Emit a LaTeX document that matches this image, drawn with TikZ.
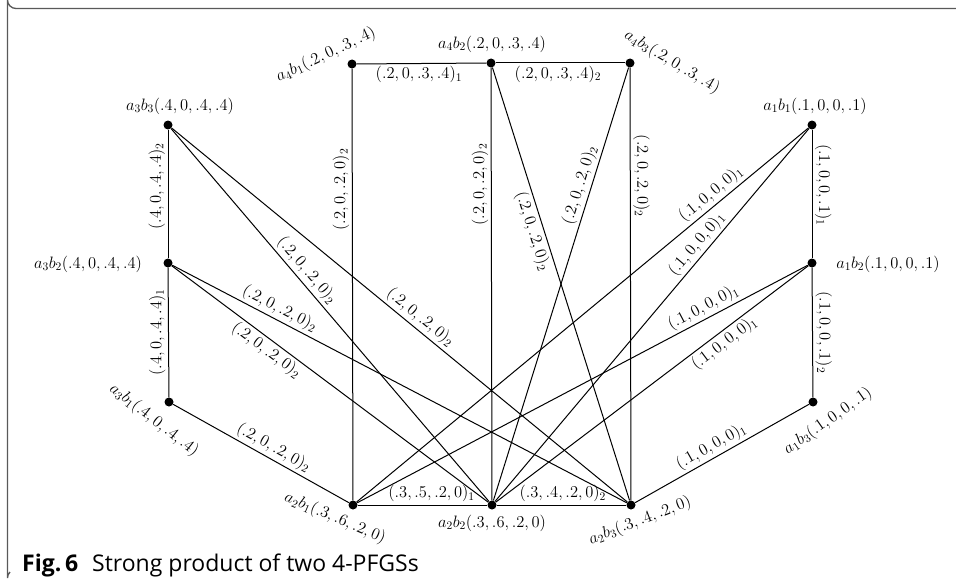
\RequirePackage{fix-cm}
\documentclass[tikz,border=0pt]{standalone}
\usepackage{fontspec}
\newfontfamily\capfont{Open Sans}
\begin{document}
\begin{tikzpicture}[x={(1pt,0)},y={(0,-1pt)},
  dot/.style={circle,fill=black,inner sep=0pt,minimum size=9pt},
  edge/.style={draw=black,line width=1pt},
  lab/.style={font=\fontsize{16.5}{19}\selectfont,inner sep=0pt},
  elab/.style={font=\fontsize{16.5}{19}\selectfont,inner sep=2.5pt},
  frame/.style={draw=black!65,line width=1.3pt}]
\useasboundingbox (0,0) rectangle (956,586);
\draw[frame] (960,8.5) -- (16,8.5) arc[start angle=90,end angle=180,radius=8.5] -- (7.5,578) arc[start angle=180,end angle=225,radius=8.5];
% vertices
\node[dot] (a3b3) at (168,125) {};
\node[dot] (a3b2) at (168,263) {};
\node[dot] (a3b1) at (169,402) {};
\node[dot] (a4b1) at (352,64) {};
\node[dot] (a4b2) at (491,63) {};
\node[dot] (a4b3) at (630,63) {};
\node[dot] (a1b1) at (812,125) {};
\node[dot] (a1b2) at (812,263) {};
\node[dot] (a1b3) at (813,402) {};
\node[dot] (a2b1) at (353,505) {};
\node[dot] (a2b2) at (492,505) {};
\node[dot] (a2b3) at (631,505) {};
% vertex labels
\node[lab] (la3b3) at (180,106) {$a_3b_3(.4,0,.4,.4)$};
\node[lab] (la3b2) at (88,264) {$a_3b_2(.4,0,.4,.4)$};
\node[lab,rotate=-38] (la3b1) at (154,420) {$a_3b_1(.4,0,.4,.4)$};
\node[lab,rotate=25] (la4b1) at (326,55) {$a_4b_1(.2,0,.3,.4)$};
\node[lab] (la4b2) at (492,44) {$a_4b_2(.2,0,.3,.4)$};
\node[lab,rotate=-31] (la4b3) at (672,62) {$a_4b_3(.2,0,.3,.4)$};
\node[lab] (la1b1) at (815,106) {$a_1b_1(.1,0,0,.1)$};
\node[lab] (la1b2) at (888,264) {$a_1b_2(.1,0,0,.1)$};
\node[lab,rotate=35] (la1b3) at (828,421) {$a_1b_3(.1,0,0,.1)$};
\node[lab,rotate=-23] (la2b1) at (335,518) {$a_2b_1(.3,.6,.2,0)$};
\node[lab] (la2b2) at (492,523) {$a_2b_2(.3,.6,.2,0)$};
\node[lab,rotate=21] (la2b3) at (640,521) {$a_2b_3(.3,.4,.2,0)$};
% edges: left column
\draw[edge] (a3b2) -- node[elab,pos=0.56,rotate=90,above] {$(.4,0,.4,.4)_2$} (a3b3);
\draw[edge] (a3b1) -- node[elab,pos=0.5,rotate=90,above] {$(.4,0,.4,.4)_1$} (a3b2);
\draw[edge] (a3b1) -- node[elab,pos=0.54,sloped,above] {$(.2,0,.2,0)_2$} (a2b1);
\draw[edge] (a3b3) -- node[elab,pos=0.4,sloped,above] {$(.2,0,.2,0)_2$} (a2b2);
\draw[edge] (a3b3) -- node[elab,pos=0.53,sloped,above] {$(.2,0,.2,0)_2$} (a2b3);
\draw[edge] (a3b2) -- node[elab,pos=0.225,sloped,above] {$(.2,0,.2,0)_2$} (a2b3);
\draw[edge] (a3b2) -- node[elab,pos=0.32,sloped,below] {$(.2,0,.2,0)_2$} (a2b2);
% top row
\draw[edge] (a4b1) -- node[elab,pos=0.48,below] {$(.2,0,.3,.4)_1$} (a4b2);
\draw[edge] (a4b2) -- node[elab,pos=0.48,below] {$(.2,0,.3,.4)_2$} (a4b3);
\draw[edge] (a4b1) -- node[elab,pos=0.28,rotate=90,above] {$(.2,0,.2,0)_2$} (a2b1);
\draw[edge] (a4b2) -- node[elab,pos=0.27,rotate=90,above] {$(.2,0,.2,0)_2$} (a2b2);
\draw[edge] (a4b3) -- node[elab,pos=0.25,rotate=-90,above] {$(.2,0,.2,0)_2$} (a2b3);
\draw[edge] (a4b2) -- node[elab,pos=0.37,sloped,below] {$(.2,0,.2,0)_2$} (a2b3);
\draw[edge] (a2b2) -- node[elab,pos=0.72,sloped,above] {$(.2,0,.2,0)_2$} (a4b3);
% right column
\draw[edge] (a1b1) -- node[elab,pos=0.43,rotate=-90,above] {$(.1,0,0,.1)_1$} (a1b2);
\draw[edge] (a1b2) -- node[elab,pos=0.5,rotate=-90,above] {$(.1,0,0,.1)_2$} (a1b3);
\draw[edge] (a2b3) -- node[elab,pos=0.47,sloped,above] {$(.1,0,0,0)_1$} (a1b3);
\draw[edge] (a2b1) -- node[elab,pos=0.8,sloped,above] {$(.1,0,0,0)_1$} (a1b1);
\draw[edge] (a2b2) -- node[elab,pos=0.67,sloped,above] {$(.1,0,0,0)_1$} (a1b1);
\draw[edge] (a2b1) -- node[elab,pos=0.78,sloped,above] {$(.1,0,0,0)_1$} (a1b2);
\draw[edge] (a2b2) -- node[elab,pos=0.71,sloped,below] {$(.1,0,0,0)_1$} (a1b2);
% bottom row
\draw[edge] (a2b1) -- node[elab,pos=0.57,above] {$(.3,.5,.2,0)_1$} (a2b2);
\draw[edge] (a2b2) -- node[elab,pos=0.51,above] {$(.3,.4,.2,0)_2$} (a2b3);
% caption
\node[anchor=base west,inner sep=0pt,font=\capfont\fontsize{23}{27}\selectfont] (cap) at (22,571) {\textbf{Fig.\,6}\hspace{0.6em}Strong product of two 4-PFGSs};
\end{tikzpicture}
\end{document}
